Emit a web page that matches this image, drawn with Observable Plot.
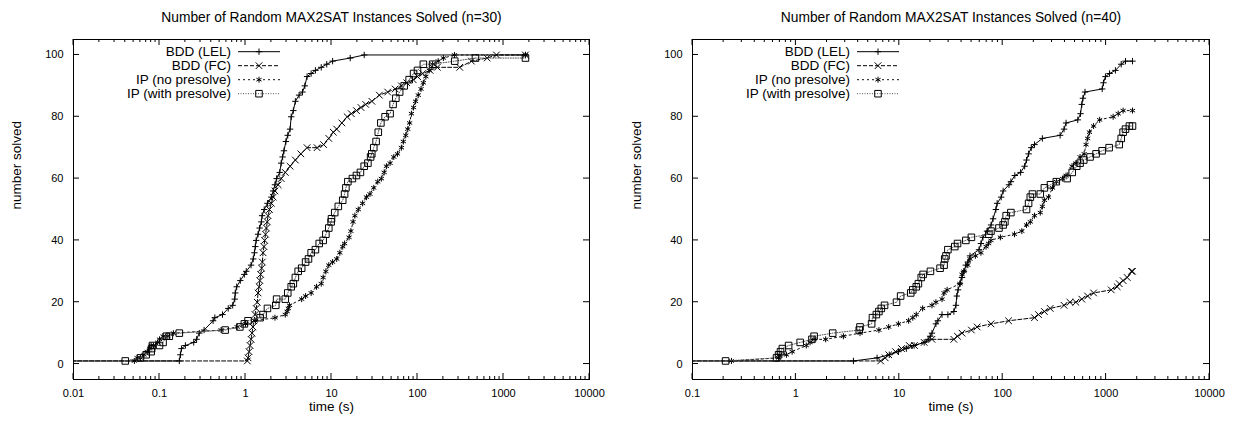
<!DOCTYPE html>
<html><head><meta charset="utf-8">
<script src="https://cdn.jsdelivr.net/npm/d3@7"></script>
<script src="https://cdn.jsdelivr.net/npm/@observablehq/plot@0.6"></script>
<style>
body{margin:0;background:#fff;}
#wrap{display:flex;width:1239px;height:423px;overflow:hidden;}
#wrap svg{flex:none;}
</style></head><body><div id="wrap"></div>
<script>
// ---------- text ----------
const seriesNames = ["BDD (LEL)", "BDD (FC)", "IP (no presolve)", "IP (with presolve)"];
const title30 = "Number of Random MAX2SAT Instances Solved (n=30)";
const title40 = "Number of Random MAX2SAT Instances Solved (n=40)";
const xLabel = "time (s)";
const yLabel = "number solved";
const xTicks30 = [0.01, 0.1, 1, 10, 100, 1000, 10000];
const xTickLabels30 = ["0.01", "0.1", "1", "10", "100", "1000", "10000"];
const xTicks40 = [0.1, 1, 10, 100, 1000, 10000];
const xTickLabels40 = ["0.1", "1", "10", "100", "1000", "10000"];
const yTicks = [0, 20, 40, 60, 80, 100];
const yTickLabels = ["0", "20", "40", "60", "80", "100"];

// ---------- n=30 ----------
const lel30_t = [0.005,0.17,0.175,0.18,0.2,0.25,0.27,0.29,0.33,0.42,0.44,0.54,0.63,0.71,0.75,0.76,0.79,0.87,0.97,1.02,1.16,1.23,1.27,1.3,1.33,1.4,1.46,1.53,1.56,1.65,1.8,2.0,2.1,2.2,2.3,2.5,2.6,2.7,2.8,2.95,3.1,3.3,3.4,3.6,3.8,4.2,4.6,4.9,5.2,5.8,6.5,7.6,8.8,10.3,16.5,24,1800];
const lel30_n = [1,1,3,5,6,7,8,10,11,14,15,16,18,19,21,23,25,27,29,30,32,34,36,38,40,42,44,46,48,50,52,54,56,58,60,62,65,67,69,72,74,76,80,82,85,87,88,90,93,94,95,96,97,98,99,100,100];

const fc30_t = [0.005,1.05,1.07,1.1,1.13,1.16,1.19,1.22,1.25,1.29,1.33,1.37,1.4,1.44,1.47,1.5,1.54,1.57,1.6,1.64,1.67,1.71,1.75,1.79,1.83,1.9,2.0,2.1,2.2,2.4,2.6,2.9,3.3,3.8,4.4,5.2,6.8,8.1,9.3,10.5,11.5,13.2,15.2,17,19.5,22,25,29.5,36,45,55,65,75,89,100,115,140,170,310,424,645,828,1800];
const fc30_n = [1,1,2,4,6,8,10,12,14,16,18,20,23,25,27,29,31,33,36,38,40,42,44,46,48,50,52,54,56,58,60,62,64,66,68,70,70,71,73,75,76,78,80,81,82,83,84,85,87,88,89,90,91,92,93,94,95,96,96,98,99,100,100];

const ipn30_t = [0.051,0.055,0.06,0.066,0.072,0.077,0.08,0.085,0.095,0.1,0.11,0.125,0.145,0.52,0.8,1.0,1.3,2.2,2.9,3.05,3.15,3.25,4.5,5,5.8,6.7,7.6,8.0,8.6,9.3,10.3,11.5,12.5,13.5,14.2,16,16.8,17.8,18.7,20.5,23,25.5,28,31,34.5,38,41,43.5,48,53,58.5,65,68.5,73,77,81,85,90,95,102,110,117,125,137,150,174,200,269,1800];
const ipn30_n = [1,2,2,3,4,5,6,6,7,8,9,9,10,11,12,13,14,15,16,17,18,19,21,22,23,25,26,28,30,32,33,34,36,38,39,41,43,46,48,50,52,54,55,57,59,60,62,64,65,67,68,70,72,74,76,78,81,83,85,87,89,91,93,95,97,98,99,100,100];

const ipp30_t = [0.04,0.06,0.07,0.08,0.081,0.083,0.1,0.11,0.12,0.13,0.17,0.58,0.86,0.97,1.07,1.48,1.6,1.8,2.25,2.3,2.9,3.1,3.4,3.6,3.8,4.1,4.5,5,5.4,5.8,6.5,7.2,8,8.6,9.3,9.9,10,10.9,12,13.5,14.2,14.7,15.5,17.5,19.5,21.7,24,26.5,28.5,29.4,31,33,35,37.5,42,48,52,56,62,70,80,90,100,117,150,271,472,1800];
const ipp30_n = [1,2,3,4,5,6,6,7,9,9,10,11,12,13,14,15,16,18,19,21,21,23,25,26,28,30,31,33,34,36,37,39,40,42,44,46,47,49,51,53,55,57,59,60,61,62,64,65,67,68,70,72,75,78,80,81,84,86,88,90,92,94,95,97,97,98,99,99];

// ---------- n=40 ----------
const lel40_t = [0.01,3.6,6.1,8,9.8,11.7,13.9,17.4,19,19.9,20.7,22.6,23.6,25.9,29.5,33.7,35.3,36,37,38.6,40.4,42.2,44,46,48.3,59,61.6,64.4,70.5,77.2,80.7,85.9,88.4,96.7,101,115,120,131,149,163,170,178,189,203,242,359,392,410,532,566,582,597,625,917,943,986,1080,1230,1400,1540,1800];
const lel40_n = [1,1,2,3,4,5,6,7,8,9,10,13,14,16,16,17,19,22,24,26,28,30,32,33,35,37,39,41,43,45,47,50,52,54,56,58,59,61,62,64,66,68,70,71,73,74,76,78,79,81,84,86,88,89,91,93,94,95,97,98,98];

const fc40_t = [0.01,6.6,7.3,7.9,9.2,10.5,12.5,14,17.4,20.7,33.7,36.5,40.4,49.8,56.6,77,114,203,222,253,288,392,447,510,582,663,757,1120,1280,1340,1460,1600,1760,1800];
const fc40_n = [1,1,2,3,4,5,6,6,7,8,8,9,10,11,12,13,14,15,16,17,18,19,20,20,21,22,23,24,25,26,27,28,30,30];

const ipn40_t = [0.238,0.68,0.69,0.81,0.92,1.26,1.37,1.5,1.94,2.88,4.17,6.35,7.9,9.8,12.3,13.5,14.6,16.8,20.7,22.6,25.9,27.1,29,38.6,40.4,42.2,46,48.3,54.4,61.6,69,73,77,95,130,153,170,185,203,231,242,253,277,303,331,379,410,468,510,560,613,640,663,690,757,866,1170,1310,1460,1800];
const ipn40_n = [1,2,3,3,4,6,7,8,8,9,10,11,12,13,14,15,16,18,19,20,21,23,24,26,29,30,32,34,35,36,38,39,40,41,42,43,45,46,48,49,51,53,54,57,59,60,61,64,65,67,68,71,73,75,77,79,80,81,82,82];

const ipp40_t = [0.209,0.65,0.68,0.71,0.74,0.85,1.1,1.43,1.5,2.27,4.1,4.17,5.4,5.5,6.0,6.35,6.7,7.2,9.4,10.3,12.9,13.5,14.6,15.3,16.3,17,20,24.8,27.1,27.5,28.3,29.5,34.4,36.6,44,49.8,73.5,77,92,101,105,108,120,170,178,185,194,231,253,290,330,420,470,520,560,608,700,800,915,1070,1340,1400,1460,1540,1680,1800];
const ipp40_n = [1,2,3,4,5,6,7,8,9,10,11,12,13,15,16,17,18,19,20,22,23,24,25,26,28,29,30,31,32,34,35,37,38,39,40,41,42,43,44,45,46,48,49,50,52,54,55,55,57,58,59,60,62,64,65,66,67,68,69,70,71,73,75,76,77,77];

// ---------- styles ----------
const FONT = "'Liberation Sans', Arial, Helvetica, sans-serif";
const TITLE_SIZE = 13.8, LABEL_SIZE = 13.5, TICK_SIZE = 11;
const styles = [
  {symbol: "plus", r: 2.2, line: "#000", dash: null},
  {symbol: "times", r: 3.1, line: "#000", dash: "4,2"},
  {symbol: "asterisk", r: 2.8, line: "#111", dash: "2,3"},
  {symbol: "square", r: 3.7, line: "#555", dash: "1,1.5"}
];
const d3Sym = {plus: d3.symbolPlus, times: d3.symbolTimes, asterisk: d3.symbolAsterisk, square: d3.symbolSquare};

function chart({w, ml, mr, xDomain, xTicks, xLabels, title, series}) {
  const mt = 39, mb = 44, H = 423;
  const fmt = new Map(xTicks.map((v, i) => [v, xLabels[i]]));
  const yfmt = new Map(yTicks.map((v, i) => [v, yTickLabels[i]]));
  const marks = [];
  series.forEach((s, k) => {
    const st = styles[k];
    const data = s.t.map((t, i) => ({t, n: s.n[i]}));
    marks.push(Plot.line(data, {x: "t", y: "n", stroke: st.line, strokeWidth: 1, strokeDasharray: st.dash, clip: true}));
    marks.push(Plot.dot(data, {x: "t", y: "n", symbol: st.symbol, r: st.r, stroke: "#000", strokeWidth: 1, fill: "none", clip: true}));
  });
  const plot = Plot.plot({
    width: w, height: H, marginLeft: ml, marginRight: mr, marginTop: mt, marginBottom: mb,
    style: `font-family: ${FONT}; background: #fff; color: #000; overflow: visible;`,
    x: {type: "log", domain: xDomain},
    y: {domain: [-5, 105]},
    marks: [
      Plot.axisX({ticks: xTicks, tickFormat: d => fmt.get(d), tickSize: 0, tickPadding: 10, fontSize: TICK_SIZE, fontFamily: FONT, label: null}),
      Plot.axisY({ticks: yTicks, tickFormat: d => yfmt.get(d), tickSize: 0, tickPadding: 10, fontSize: TICK_SIZE, fontFamily: FONT, label: null}),
      ...marks,
      Plot.frame({stroke: "#000"}),
      Plot.text([title], {frameAnchor: "top", dy: -21.5, lineAnchor: "middle", text: d => d, fontSize: TITLE_SIZE, fontFamily: FONT}),
      Plot.text([xLabel], {frameAnchor: "bottom", dy: 27, lineAnchor: "middle", text: d => d, fontSize: LABEL_SIZE, fontFamily: FONT}),
      Plot.text([yLabel], {frameAnchor: "left", dx: -(ml - 15.7), rotate: -90, lineAnchor: "middle", text: d => d, fontSize: LABEL_SIZE, fontFamily: FONT})
    ]
  });
  const svg = d3.select(plot).attr("font-family", FONT);
  // make sure the font sizes are applied on the text elements themselves
  svg.selectAll("text").each(function () {
    const s = this.textContent;
    if (s === title) d3.select(this).attr("font-size", TITLE_SIZE).style("font-size", TITLE_SIZE + "px");
    else if (s === xLabel || s === yLabel) d3.select(this).attr("font-size", LABEL_SIZE).style("font-size", LABEL_SIZE + "px");
  });
  const sx = plot.scale("x"), sy = plot.scale("y");
  const X = v => sx.apply(v), Y = v => sy.apply(v);
  const left = ml, right = w - mr, top = mt, bottom = H - mb;
  const g = svg.append("g").attr("stroke", "#000").attr("stroke-width", 1).attr("fill", "none");
  const line = (x1, y1, x2, y2) => g.append("line").attr("x1", x1).attr("y1", y1).attr("x2", x2).attr("y2", y2);
  const major = 6, minor = 3;
  xTicks.forEach((v, i) => {
    const x = X(v);
    line(x, bottom, x, bottom - major); line(x, top, x, top + major);
    if (i < xTicks.length - 1) {
      for (let m = 2; m <= 9; m++) {
        const xm = X(v * m);
        line(xm, bottom, xm, bottom - minor); line(xm, top, xm, top + minor);
      }
    }
  });
  yTicks.forEach(v => {
    const y = Y(v);
    line(left, y, left + major, y); line(right, y, right - major, y);
  });
  // legend
  const lg = svg.append("g");
  seriesNames.forEach((name, i) => {
    const st = styles[i];
    const y = top + 12.7 + 14 * i;
    lg.append("text").attr("x", left + 158).attr("y", y).attr("dy", "0.35em").attr("text-anchor", "end")
      .attr("font-family", FONT).attr("fill", "#000").style("font-size", LABEL_SIZE + "px").text(name);
    lg.append("line").attr("x1", left + 165).attr("x2", left + 207).attr("y1", y).attr("y2", y)
      .attr("stroke", st.line).attr("stroke-width", 1).attr("stroke-dasharray", st.dash);
    lg.append("path").attr("d", d3.symbol(d3Sym[st.symbol], Math.PI * st.r * st.r)())
      .attr("transform", `translate(${left + 186},${y})`).attr("stroke", "#000").attr("fill", "none");
  });
  return plot;
}

const wrap = document.getElementById("wrap");
wrap.appendChild(chart({
  w: 620, ml: 73, mr: 31, xDomain: [0.01, 10000], xTicks: xTicks30, xLabels: xTickLabels30, title: title30,
  series: [{t: lel30_t, n: lel30_n}, {t: fc30_t, n: fc30_n}, {t: ipn30_t, n: ipn30_n}, {t: ipp30_t, n: ipp30_n}]
}));
wrap.appendChild(chart({
  w: 619, ml: 72, mr: 30, xDomain: [0.1, 10000], xTicks: xTicks40, xLabels: xTickLabels40, title: title40,
  series: [{t: lel40_t, n: lel40_n}, {t: fc40_t, n: fc40_n}, {t: ipn40_t, n: ipn40_n}, {t: ipp40_t, n: ipp40_n}]
}));
</script>
</body></html>
